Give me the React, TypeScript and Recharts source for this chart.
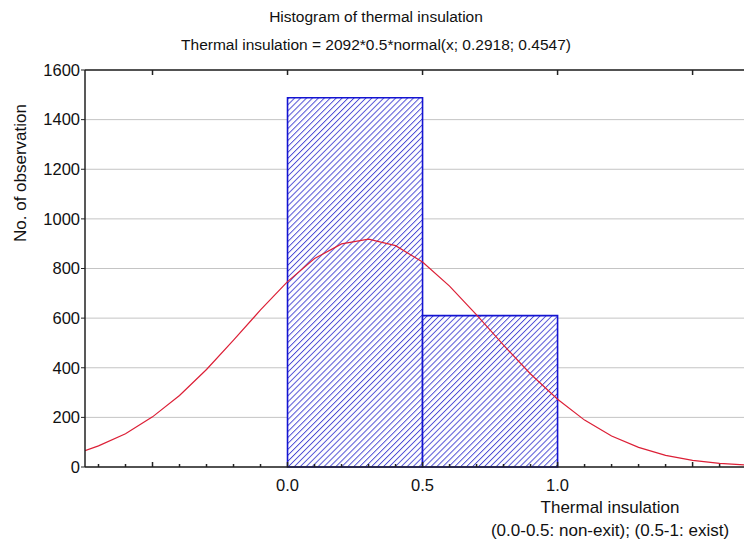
import React from "react";
import {
  ComposedChart,
  XAxis,
  YAxis,
  CartesianGrid,
  Line,
  ReferenceArea,
} from "recharts";

// histogram bins
const binStarts = [0.0, 0.5];
const binEnds = [0.5, 1.0];
const binCounts = [1488, 610];

// fitted normal curve
const curveX = [
  -0.75, -0.7, -0.6, -0.5, -0.4, -0.3, -0.2, -0.1, 0.0, 0.1, 0.2, 0.3, 0.4,
  0.5, 0.6, 0.7, 0.8, 0.9, 1.0, 1.1, 1.2, 1.3, 1.4, 1.5, 1.6, 1.7, 1.72,
];
const curveY = [
  66, 85, 134, 202, 288, 393, 511, 633, 747, 840, 899, 918, 892, 826, 729,
  613, 491, 375, 273, 189, 125, 79, 47, 27, 15, 8, 7,
];

const yTicks = [0, 200, 400, 600, 800, 1000, 1200, 1400, 1600];
const xMinorTicks = [
  -0.7, -0.6, -0.5, -0.4, -0.3, -0.2, -0.1, 0.0, 0.1, 0.2, 0.3, 0.4, 0.5,
  0.6, 0.7, 0.8, 0.9, 1.0, 1.1, 1.2, 1.3, 1.4, 1.5, 1.6, 1.7,
];
const xLabelled = [0.0, 0.5, 1.0];
const topTicks = [-0.5, 0.0, 0.5, 1.0, 1.5];

const data = curveX.map((x, i) => ({ x, y: curveY[i] }));

const FONT = "'Liberation Sans', Arial, sans-serif";
const AXIS = "#222";

const isHalf = (v: number) => Math.abs(v * 2 - Math.round(v * 2)) < 1e-6;

const BottomTick = (props: any) => {
  const { x, y, payload } = props;
  const v = payload.value as number;
  const showLabel = xLabelled.some((l) => Math.abs(l - v) < 1e-6);
  return (
    <g>
      <line x1={x} x2={x} y1={y} y2={y - (isHalf(v) ? 5 : 3)} stroke={AXIS} strokeWidth={1.5} />
      {showLabel && (
        <text x={x} y={y + 24} textAnchor="middle" fontSize={16.5} fill="#111" fontFamily={FONT}>
          {v.toFixed(1)}
        </text>
      )}
    </g>
  );
};

const TopTick = (props: any) => {
  const { x, y } = props;
  return <line x1={x} x2={x} y1={y} y2={y + 5} stroke={AXIS} strokeWidth={1.5} />;
};

export default function App() {
  return (
    <div style={{ position: "relative", width: 752, height: 543, marginLeft: -8, marginTop: -8, background: "#fff", fontFamily: FONT, color: "#111" }}>
      <div style={{ position: "absolute", top: 8, left: 0, width: 752, textAlign: "center", fontSize: 15.5 }}>
        Histogram of thermal insulation
      </div>
      <div style={{ position: "absolute", top: 36, left: 0, width: 752, textAlign: "center", fontSize: 15.5 }}>
        Thermal insulation = 2092*0.5*normal(x; 0.2918; 0.4547)
      </div>
      <div
        style={{
          position: "absolute",
          left: 21,
          top: 173,
          transform: "translate(-50%, -50%) rotate(-90deg)",
          whiteSpace: "nowrap",
          fontSize: 17,
        }}
      >
        No. of observation
      </div>
      <div style={{ position: "absolute", left: 510, width: 200, top: 498, textAlign: "center", fontSize: 17 }}>
        Thermal insulation
      </div>
      <div style={{ position: "absolute", left: 460, width: 300, top: 521, textAlign: "center", fontSize: 17 }}>
        (0.0-0.5: non-exit); (0.5-1: exist)
      </div>
      <ComposedChart
        width={752}
        height={543}
        data={data}
        margin={{ top: 0, right: 0, bottom: 0, left: 0 }}
        style={{ position: "absolute", left: 0, top: 0 }}
      >
        <defs>
          <pattern id="hatch" patternUnits="userSpaceOnUse" width={4.2} height={4.2} patternTransform="rotate(45)">
            <rect width={4.2} height={4.2} fill="#ffffff" />
            <line x1={0} y1={0} x2={0} y2={4.2} stroke="#4b4bd4" strokeWidth={1.9} />
          </pattern>
        </defs>
        <CartesianGrid vertical={false} stroke="#c4c4c4" strokeWidth={1} />
        <XAxis
          dataKey="x"
          type="number"
          domain={[-0.75, 1.72]}
          allowDataOverflow
          ticks={xMinorTicks}
          interval={0}
          tick={<BottomTick />}
          tickLine={false}
          tickSize={0}
          tickMargin={0}
          height={76}
          axisLine={{ stroke: AXIS, strokeWidth: 1.5 }}
        />
        <XAxis
          xAxisId="top"
          orientation="top"
          dataKey="x"
          type="number"
          domain={[-0.75, 1.72]}
          allowDataOverflow
          ticks={topTicks}
          interval={0}
          tick={<TopTick />}
          tickLine={false}
          tickSize={0}
          tickMargin={0}
          height={70}
          axisLine={{ stroke: AXIS, strokeWidth: 1.5 }}
        />
        <YAxis
          type="number"
          domain={[0, 1600]}
          ticks={yTicks}
          interval={0}
          width={85}
          tickSize={4}
          tickMargin={1}
          tick={{ fontSize: 16.5, fill: "#111", fontFamily: FONT }}
          tickLine={{ stroke: AXIS }}
          axisLine={{ stroke: AXIS, strokeWidth: 1.5 }}
        />
        {binStarts.map((s, i) => (
          <ReferenceArea
            key={i}
            x1={s}
            x2={binEnds[i]}
            y1={0}
            y2={binCounts[i]}
            fill="url(#hatch)"
            fillOpacity={1}
            stroke="#1414d2"
            strokeWidth={1.6}
          />
        ))}
        <Line
          dataKey="y"
          type="linear"
          stroke="#dc1f36"
          strokeWidth={1.2}
          dot={false}
          isAnimationActive={false}
        />
      </ComposedChart>
    </div>
  );
}
